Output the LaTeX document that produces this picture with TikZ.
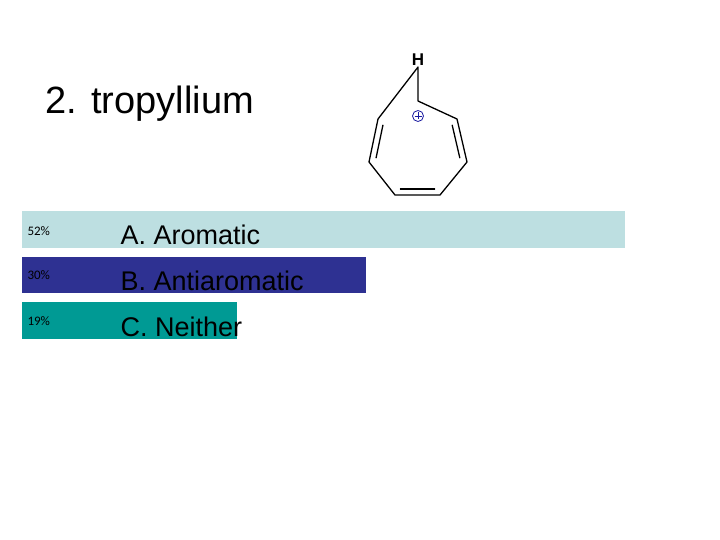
\documentclass[tikz,border=0pt]{standalone}
\usepackage{fontspec}
\usetikzlibrary{calc}
\setmainfont{Liberation Sans}
\newfontfamily\pctfont{Carlito}
\definecolor{barA}{HTML}{BDDFE1}
\definecolor{barB}{HTML}{2E3192}
\definecolor{barC}{HTML}{009A94}
\definecolor{plusblue}{HTML}{1A1AA0}
\begin{document}
\begin{tikzpicture}[x=1pt,y=-1pt,
  bar/.style={inner sep=0pt, outer sep=0pt},
  pct/.style={font=\pctfont\fontsize{13}{13}\selectfont, anchor=west},
  opt/.style={font=\fontsize{27}{27}\selectfont, anchor=base west},
  bond/.style={line width=1.3pt, line cap=round, line join=round}]
\useasboundingbox[fill=white] (0,0) rectangle (720,540);
\fill[barA] (22,211) rectangle (625,248);
\fill[barB] (22,257) rectangle (366,293);
\fill[barC] (22,302) rectangle (237,339);
\node[pct] (p1) at (24,231) {52\%};
\node[pct] (p2) at (24,275) {30\%};
\node[pct] (p3) at (24,321) {19\%};
\node[opt] (a) at (117,244) {A. Aromatic};
\node[opt] (b) at (117,290) {B. Antiaromatic};
\node[opt] (c) at (117,336) {C. Neither};
\node[font=\fontsize{38}{38}\selectfont, anchor=base west] (t) at (42,114) {2. tropyllium};
% molecule
\coordinate (c1) at (418,101);
\coordinate (c2) at (457,119);
\coordinate (c3) at (467,162);
\coordinate (c4) at (440,195);
\coordinate (c5) at (395,195);
\coordinate (c6) at (369,162);
\coordinate (c7) at (378,119);
\node[font=\bfseries\fontsize{17}{17}\selectfont, inner sep=1pt] (h) at (418,60) {H};
\draw[bond] (h) -- (c1) -- (c2) -- (c3) -- (c4) -- (c5) -- (c6) -- (c7) -- cycle;
\draw[bond] ($(c2)!0.12!(c3)+(-6,1)$) -- ($(c2)!0.88!(c3)+(-6,1)$);
\draw[bond] ($(c4)!0.12!(c5)+(0,-6)$) -- ($(c4)!0.88!(c5)+(0,-6)$);
\draw[bond] ($(c6)!0.12!(c7)+(6,1)$) -- ($(c6)!0.88!(c7)+(6,1)$);
\node[draw=plusblue, circle, line width=0.8pt, minimum size=11pt, inner sep=0pt] (plus) at (418,116) {};
\draw[plusblue, line width=0.8pt] (414.5,116) -- (421.5,116) (418,112.5) -- (418,119.5);
\end{tikzpicture}
\end{document}
